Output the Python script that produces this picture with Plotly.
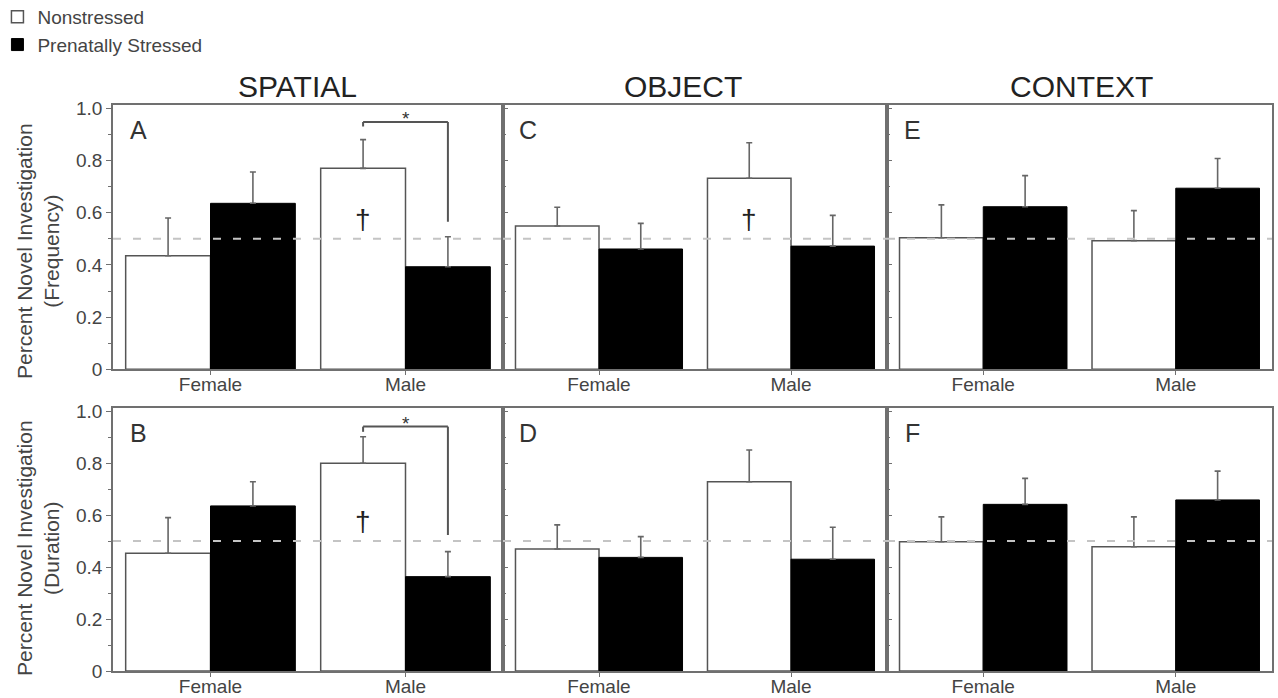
import plotly.graph_objects as go
from plotly.subplots import make_subplots

# ---------------- data ----------------
categories = ["Female", "Male"]
tasks = ["SPATIAL", "OBJECT", "CONTEXT"]
measures = ["Frequency", "Duration"]
panel_letters = [["A", "C", "E"], ["B", "D", "F"]]

# Frequency row
spatial_freq_ns = [0.435, 0.770]
spatial_freq_ns_err = [0.145, 0.110]
spatial_freq_ps = [0.636, 0.393]
spatial_freq_ps_err = [0.120, 0.115]
object_freq_ns = [0.549, 0.732]
object_freq_ns_err = [0.072, 0.136]
object_freq_ps = [0.461, 0.472]
object_freq_ps_err = [0.098, 0.118]
context_freq_ns = [0.504, 0.493]
context_freq_ns_err = [0.126, 0.115]
context_freq_ps = [0.623, 0.694]
context_freq_ps_err = [0.119, 0.114]

# Duration row
spatial_dur_ns = [0.453, 0.799]
spatial_dur_ns_err = [0.137, 0.102]
spatial_dur_ps = [0.635, 0.363]
spatial_dur_ps_err = [0.093, 0.096]
object_dur_ns = [0.469, 0.728]
object_dur_ns_err = [0.093, 0.122]
object_dur_ps = [0.437, 0.430]
object_dur_ps_err = [0.080, 0.123]
context_dur_ns = [0.497, 0.478]
context_dur_ns_err = [0.096, 0.115]
context_dur_ps = [0.641, 0.658]
context_dur_ps_err = [0.100, 0.111]

chance_level = 0.5
y_ticks = [0, 0.2, 0.4, 0.6, 0.8, 1.0]
y_ticktext = ["0", "0.2", "0.4", "0.6", "0.8", "1.0"]
y_minor = [0.1, 0.3, 0.5, 0.7, 0.9]

# significance (spatial, male): bracket height and arm ends, per row
sig_top = [0.948, 0.940]
sig_left_end = [0.930, 0.920]
sig_right_end = [0.565, 0.523]
dagger_y = 0.575  # "†" inside nonstressed male bars (A, B, C)
dagger_panels = [(1, 1), (2, 1), (1, 2)]

panels = {
    (1, 1): (spatial_freq_ns, spatial_freq_ns_err, spatial_freq_ps, spatial_freq_ps_err),
    (1, 2): (object_freq_ns, object_freq_ns_err, object_freq_ps, object_freq_ps_err),
    (1, 3): (context_freq_ns, context_freq_ns_err, context_freq_ps, context_freq_ps_err),
    (2, 1): (spatial_dur_ns, spatial_dur_ns_err, spatial_dur_ps, spatial_dur_ps_err),
    (2, 2): (object_dur_ns, object_dur_ns_err, object_dur_ps, object_dur_ps_err),
    (2, 3): (context_dur_ns, context_dur_ns_err, context_dur_ps, context_dur_ps_err),
}

# ---------------- layout constants ----------------
W, H = 1278, 698
FONT = "Liberation Sans, Arial, Helvetica, sans-serif"
BARGAP = 0.13
OFF = (1 - BARGAP) / 4  # offset of each bar center within a group
AX = "#707070"
TXT = "#444444"

col_px = [(113, 503), (503, 887), (887, 1272)]
row_px = [(105.2, 369.3), (407.9, 671.0)]  # (top, bottom) pixels
Y_TOP = 1.012


def px_x(p):
    return p / W


def px_y(p):
    return 1 - p / H


fig = make_subplots(rows=2, cols=3, horizontal_spacing=0, vertical_spacing=0.05)

for (r, c), (ns, ns_e, ps, ps_e) in panels.items():
    first = (r, c) == (1, 1)
    fig.add_trace(go.Bar(
        x=categories, y=ns, name="Nonstressed", legendgroup="ns", showlegend=first,
        marker=dict(color="white", line=dict(color="#555555", width=1.5)),
        error_y=dict(type="data", symmetric=False, array=ns_e, arrayminus=[0, 0],
                     color="#666666", thickness=1.6, width=3),
    ), row=r, col=c)
    fig.add_trace(go.Bar(
        x=categories, y=ps, name="Prenatally Stressed", legendgroup="ps", showlegend=first,
        marker=dict(color="black", line=dict(color="black", width=1)),
        error_y=dict(type="data", symmetric=False, array=ps_e, arrayminus=[0, 0],
                     color="#666666", thickness=1.6, width=3),
    ), row=r, col=c)

annotations = []
shapes = []

for r in (1, 2):
    for c in (1, 2, 3):
        idx = (r - 1) * 3 + c
        xa = "xaxis" if idx == 1 else f"xaxis{idx}"
        ya = "yaxis" if idx == 1 else f"yaxis{idx}"
        xref = "x" if idx == 1 else f"x{idx}"
        yref = "y" if idx == 1 else f"y{idx}"
        x0p, x1p = col_px[c - 1]
        t_p, b_p = row_px[r - 1]
        left = c == 1
        fig.layout[xa].update(
            type="category", range=[-0.5, 1.5],
            domain=[px_x(x0p), px_x(x1p)],
            showline=True, mirror=True, linecolor=AX, linewidth=1.5,
            ticks="outside", ticklen=4, tickcolor=AX, tickwidth=1.2,
            ticklabelstandoff=-7,
            tickfont=dict(size=19, color=TXT, family=FONT),
            showgrid=False, zeroline=False, fixedrange=True,
        )
        fig.layout[ya].update(
            range=[0, Y_TOP], domain=[px_y(b_p), px_y(t_p)],
            tickvals=y_ticks, ticktext=y_ticktext,
            showticklabels=left,
            ticks="outside" if left else "inside", ticklen=5, tickcolor=AX, tickwidth=1.2,
            minor=dict(tickvals=y_minor, ticklen=3, tickcolor=AX,
                       ticks="outside" if left else "inside"),
            tickfont=dict(size=19, color=TXT, family=FONT),
            showline=True, mirror=True, linecolor=AX, linewidth=1.5,
            showgrid=False, zeroline=False, fixedrange=True,
        )
        # chance line
        shapes.append(dict(type="line", xref=f"{xref} domain", yref=yref,
                           x0=0, x1=1, y0=chance_level, y1=chance_level, layer="above",
                           line=dict(color="#c4c4c4", width=2, dash="8px,12px")))
        # panel letter
        annotations.append(dict(xref=f"{xref} domain", yref=f"{yref} domain",
                                x=0.065, y=0.905, text=panel_letters[r - 1][c - 1],
                                showarrow=False, xanchor="center", yanchor="middle",
                                font=dict(size=25, color="#333333", family=FONT)))
        if (r, c) in dagger_panels:
            annotations.append(dict(xref=xref, yref=yref, x=1 - OFF, y=dagger_y, text="†",
                                    showarrow=False, xanchor="center", yanchor="middle",
                                    font=dict(size=28, color="#222222", family=FONT)))
        if c == 1:
            k = r - 1
            lx, rx = 1 - OFF, 1 + OFF
            bl = dict(color="#555555", width=2)
            shapes.append(dict(type="line", xref=xref, yref=yref, x0=lx, x1=rx,
                               y0=sig_top[k], y1=sig_top[k], line=bl, layer="above"))
            shapes.append(dict(type="line", xref=xref, yref=yref, x0=lx, x1=lx,
                               y0=sig_top[k], y1=sig_left_end[k], line=bl, layer="above"))
            shapes.append(dict(type="line", xref=xref, yref=yref, x0=rx, x1=rx,
                               y0=sig_top[k], y1=sig_right_end[k], line=bl, layer="above"))
            annotations.append(dict(xref=xref, yref=yref, x=1.0, y=sig_top[k], text="*",
                                    showarrow=False, xanchor="center", yanchor="bottom",
                                    yshift=-9, font=dict(size=19, color="#333333", family=FONT)))

# column titles
title_x_px = [297, 683, 1081]
for name, xp in zip(tasks, title_x_px):
    annotations.append(dict(xref="paper", yref="paper", x=px_x(xp), y=px_y(87), text=name,
                            showarrow=False, xanchor="center", yanchor="middle",
                            font=dict(size=30, color="#222222", family=FONT)))

# y-axis titles
ytitle_y_px = [251, 548]
for m, yp in zip(measures, ytitle_y_px):
    annotations.append(dict(xref="paper", yref="paper", x=px_x(38), y=px_y(yp),
                            text=f"Percent Novel Investigation<br>({m})", textangle=-90,
                            showarrow=False, xanchor="center", yanchor="middle",
                            font=dict(size=21, color=TXT, family=FONT)))

fig.update_layout(
    width=W, height=H,
    margin=dict(l=0, r=0, t=0, b=0, pad=0, autoexpand=False),
    paper_bgcolor="white", plot_bgcolor="white",
    barmode="group", bargap=BARGAP, bargroupgap=0,
    font=dict(family=FONT, color=TXT),
    shapes=shapes, annotations=annotations,
    legend=dict(x=-0.002, y=1 + 2 / H, xanchor="left", yanchor="top",
                font=dict(size=19, color=TXT, family=FONT),
                bgcolor="rgba(0,0,0,0)", traceorder="normal",
                itemwidth=30, tracegroupgap=0),
)

fig.write_html("out.html", config={"displayModeBar": False},
               post_script="document.body.style.margin='0';")
